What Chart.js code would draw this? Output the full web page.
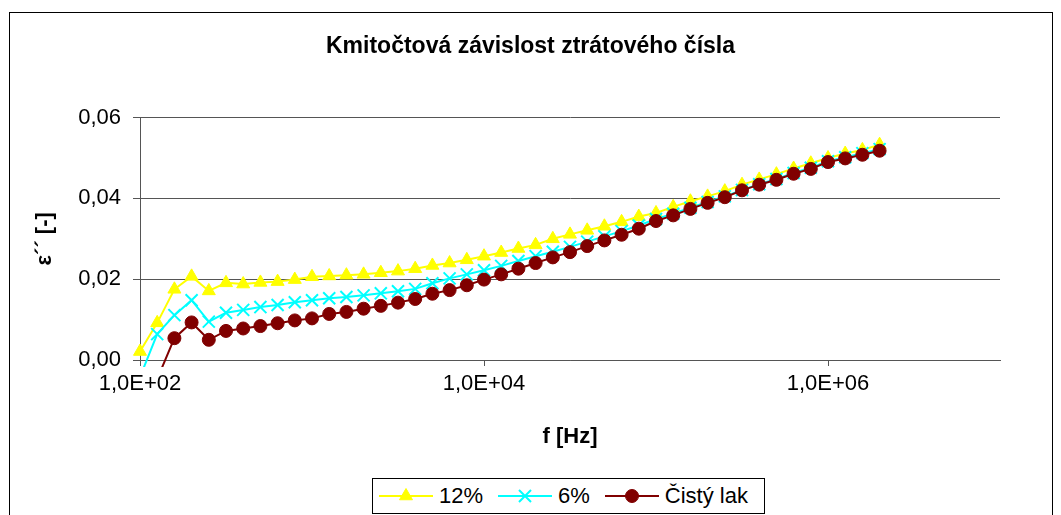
<!DOCTYPE html>
<html>
<head>
<meta charset="utf-8">
<script src="https://cdn.jsdelivr.net/npm/chart.js@4/dist/chart.umd.min.js"></script>
<style>
  html, body { margin: 0; padding: 0; background: #fff; overflow: hidden; }
  #wrap { position: relative; width: 1061px; height: 515px; }
  #c { position: absolute; left: 0; top: 0; }
  #frame { position: absolute; left: 9px; top: 12px; width: 1042px; height: 600px; border: 1px solid #000; pointer-events: none; }
  #legend { position: absolute; left: 372px; top: 478px; height: 34px; border: 1px solid #000; background: #fff;
            display: flex; align-items: center; padding: 0 16px 0 6px;
            font-family: 'Liberation Sans', Arial, sans-serif; font-size: 22px; color: #000; white-space: nowrap; }
  #legend .item { display: flex; align-items: center; margin-right: 15px; }
  #legend .item:last-child { margin-right: 0; }
  #legend canvas { display: block; margin-right: 6px; }
</style>
</head>
<body>
<div id="wrap">
  <canvas id="c" width="1061" height="515"></canvas>
  <div id="frame"></div>
  <div id="legend"></div>
</div>
<script>
// ---- data ----
const chartTitle = 'Kmitočtová závislost ztrátového čísla';
const xTitle = 'f [Hz]';
const yTitle = 'ε´´ [-]';
const seriesNames = ['12%', '6%', 'Čistý lak'];

const frequency = [100, 125.9, 158.5, 199.5, 251.2, 316.2, 398.1, 501.2, 631, 794.3,
  1000, 1259, 1585, 1995, 2512, 3162, 3981, 5012, 6310, 7943,
  10000, 12589, 15849, 19953, 25119, 31623, 39811, 50119, 63096, 79433,
  100000, 125893, 158489, 199526, 251189, 316228, 398107, 501187, 630957, 794328,
  1000000, 1258925, 1584893, 1995262];

const eps12 = [0.0021, 0.0092, 0.0175, 0.0207, 0.0171, 0.0191, 0.0188, 0.0192, 0.0194, 0.0199,
  0.0206, 0.0208, 0.0210, 0.0212, 0.0216, 0.0220, 0.0226, 0.0234, 0.0240, 0.0248,
  0.0257, 0.0266, 0.0276, 0.0285, 0.0300, 0.0311, 0.0321, 0.0331, 0.0342, 0.0355,
  0.0364, 0.0379, 0.0393, 0.0405, 0.0418, 0.0434, 0.0447, 0.0460, 0.0474, 0.0487,
  0.0500, 0.0511, 0.0520, 0.0533];

const eps6 = [-0.0042, 0.0064, 0.0111, 0.0148, 0.0095, 0.0117, 0.0124, 0.0131, 0.0136, 0.0143,
  0.0148, 0.0153, 0.0156, 0.0160, 0.0165, 0.0170, 0.0176, 0.0190, 0.0202, 0.0212,
  0.0222, 0.0233, 0.0245, 0.0257, 0.0268, 0.0280, 0.0293, 0.0306, 0.0319, 0.0333,
  0.0349, 0.0362, 0.0377, 0.0391, 0.0405, 0.0421, 0.0435, 0.0448, 0.0463, 0.0476,
  0.0492, 0.0502, 0.0512, 0.0522];

const epsLak = [-0.0090, -0.0047, 0.0054, 0.0093, 0.0050, 0.0072, 0.0078, 0.0084, 0.0091, 0.0098,
  0.0103, 0.0114, 0.0119, 0.0127, 0.0134, 0.0142, 0.0151, 0.0164, 0.0173, 0.0185,
  0.0199, 0.0212, 0.0226, 0.0240, 0.0254, 0.0267, 0.0282, 0.0296, 0.0310, 0.0325,
  0.0344, 0.0358, 0.0374, 0.0389, 0.0403, 0.0420, 0.0434, 0.0446, 0.0461, 0.0473,
  0.0490, 0.0499, 0.0508, 0.0518];

const xTickValues = [100, 10000, 1000000];
const xTickLabels = ['1,0E+02', '1,0E+04', '1,0E+06'];
const yTickValues = [0, 0.02, 0.04, 0.06];
const yTickLabels = ['0,00', '0,02', '0,04', '0,06'];

// ---- styles ----
const FONT = "'Liberation Sans', Arial, sans-serif";
Chart.defaults.font.family = FONT;
Chart.defaults.color = '#000';
const AXIS = '#555';

const styles = [
  { color: '#FFFF00', pointStyle: 'triangle', radius: 7.5, borderWidth: 1, order: 3 },
  { color: '#00FFFF', pointStyle: 'crossRot', radius: 8.5, borderWidth: 2, order: 2 },
  { color: '#800000', pointStyle: 'circle', radius: 6.5, borderWidth: 1, order: 1 }
];
const seriesValues = [eps12, eps6, epsLak];

const datasets = seriesValues.map((vals, s) => ({
  label: seriesNames[s],
  data: frequency.map((f, i) => ({ x: f, y: vals[i] })),
  borderColor: styles[s].color,
  backgroundColor: styles[s].color,
  borderWidth: 2,
  pointStyle: styles[s].pointStyle,
  pointRadius: styles[s].radius,
  pointHoverRadius: styles[s].radius,
  pointBorderWidth: styles[s].borderWidth,
  pointBackgroundColor: styles[s].color,
  pointBorderColor: styles[s].color,
  tension: 0,
  order: styles[s].order,
  clip: { left: 10, top: 10, right: 10, bottom: 7 }
}));

new Chart(document.getElementById('c'), {
  type: 'line',
  data: { datasets },
  options: {
    responsive: false,
    animation: false,
    devicePixelRatio: 1,
    layout: { padding: { left: 61, right: 61, top: 0, bottom: 0 } },
    plugins: {
      legend: { display: false },
      tooltip: { enabled: false },
      title: {
        display: true,
        text: chartTitle,
        color: '#000',
        font: { size: 23, weight: 'bold', family: FONT },
        padding: { top: 33, bottom: 57 }
      }
    },
    scales: {
      x: {
        type: 'logarithmic',
        min: 100,
        max: 10000000,
        afterBuildTicks: (scale) => { scale.ticks = xTickValues.map(v => ({ value: v })); },
        afterFit: (scale) => { scale.height = 155; },
        ticks: {
          autoSkip: false,
          maxRotation: 0,
          padding: 5,
          font: { size: 22 },
          callback: (value, index) => xTickLabels[index]
        },
        grid: { drawOnChartArea: false, drawTicks: true, tickLength: 6, color: AXIS, tickColor: AXIS },
        border: { display: true, color: AXIS, width: 1 },
        title: {
          display: true,
          text: xTitle,
          font: { size: 22, weight: 'bold' },
          padding: { top: 0, bottom: 65 }
        }
      },
      y: {
        type: 'linear',
        min: 0,
        max: 0.06,
        afterBuildTicks: (scale) => { scale.ticks = yTickValues.map(v => ({ value: v })); },
        afterFit: (scale) => { scale.width = 79; },
        ticks: {
          padding: 12,
          font: { size: 22 },
          callback: (value, index) => yTickLabels[index]
        },
        grid: { drawOnChartArea: true, drawTicks: true, tickLength: 7, color: AXIS, tickColor: AXIS },
        border: { display: true, color: AXIS, width: 1 },
        title: {
          display: true,
          text: yTitle,
          font: { size: 22, weight: 'bold' },
          padding: { top: -29, bottom: 0 }
        }
      }
    }
  }
});

// ---- HTML legend (line + marker like the original) ----
const legendEl = document.getElementById('legend');
seriesNames.forEach((name, s) => {
  const item = document.createElement('div');
  item.className = 'item';
  const cv = document.createElement('canvas');
  cv.width = 54; cv.height = 28;
  const ctx = cv.getContext('2d');
  ctx.strokeStyle = styles[s].color;
  ctx.fillStyle = styles[s].color;
  ctx.lineWidth = 2;
  ctx.beginPath(); ctx.moveTo(0, 14); ctx.lineTo(54, 14); ctx.stroke();
  ctx.lineWidth = styles[s].borderWidth;
  Chart.helpers.drawPoint(ctx, { pointStyle: styles[s].pointStyle, radius: styles[s].radius, borderWidth: styles[s].borderWidth, rotation: 0 }, 27, 14);
  const span = document.createElement('span');
  span.textContent = name;
  item.appendChild(cv);
  item.appendChild(span);
  legendEl.appendChild(item);
});
</script>
</body>
</html>
